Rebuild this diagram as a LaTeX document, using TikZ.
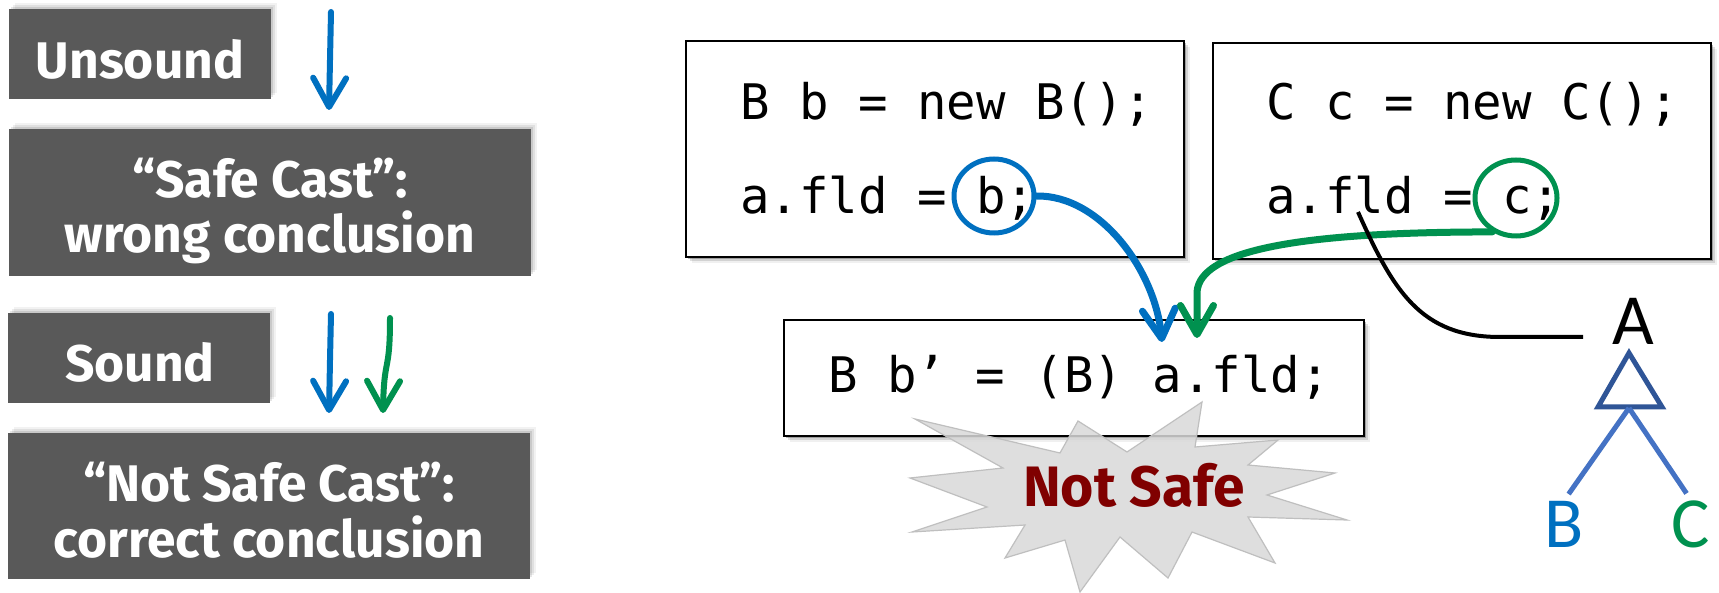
\documentclass[tikz,border=0pt]{standalone}
\usepackage{fontspec}
\setmainfont{Fira Sans}
\newfontfamily\codefont{DejaVu Sans Mono}
\newfontfamily\calfont{Carlito}
\usetikzlibrary{arrows.meta,shadows,shapes.geometric}
\definecolor{boxgray}{HTML}{595959}
\definecolor{ablue}{HTML}{0070C0}
\definecolor{agreen}{HTML}{00914F}
\definecolor{tridark}{HTML}{2F5597}
\definecolor{trilight}{HTML}{4472C4}
\definecolor{burst}{HTML}{D9D9D9}
\definecolor{burstline}{HTML}{BFBFBF}
\definecolor{nsred}{HTML}{800000}
\tikzset{
  darkbox/.style={rectangle, fill=boxgray, draw=none, inner sep=0pt,
    general shadow={shadow xshift=2pt, shadow yshift=2pt, fill=black, opacity=0.10},
    general shadow={shadow xshift=4pt, shadow yshift=4pt, fill=black, opacity=0.07},
    general shadow={shadow xshift=6pt, shadow yshift=6pt, fill=black, opacity=0.05}},
  lbl/.style={text=white, inner sep=0pt, font=\bfseries\fontsize{51.5pt}{54pt}\selectfont},
  codebox/.style={rectangle, fill=white, draw=black, line width=1.6pt, inner sep=0pt,
    general shadow={shadow xshift=2pt, shadow yshift=-2pt, fill=black, opacity=0.25},
    general shadow={shadow xshift=4pt, shadow yshift=-4pt, fill=black, opacity=0.12},
    general shadow={shadow xshift=6pt, shadow yshift=-6pt, fill=black, opacity=0.06}},
  code/.style={inner sep=0pt, font=\codefont\fontsize{49pt}{53pt}\selectfont},
  arr/.style={line width=6pt, line cap=round, line join=round,
    -{Straight Barb[length=29pt,width=33pt,round]}},
  circ/.style={ellipse, line width=5pt, inner sep=0pt},
  tree/.style={inner sep=0pt, font=\calfont\fontsize{72pt}{76pt}\selectfont},
}
\begin{document}
\begin{tikzpicture}[x=1pt,y=-1pt]
\useasboundingbox[fill=white] (0,0) rectangle (1719,593);

% left column boxes
\node[darkbox, minimum width=262pt, minimum height=90pt] (unsound) at (140,54) {};
\node[lbl, anchor=base] (unsoundt) at (140,79) {Unsound};
\node[darkbox, minimum width=522pt, minimum height=147pt] (safe) at (270,202.5) {};
\node[lbl, anchor=base] (safet1) at (270,198) {“Safe Cast”:};
\node[lbl, anchor=base] (safet2) at (270,253) {wrong conclusion};
\node[darkbox, minimum width=262pt, minimum height=90pt] (sound) at (139,358) {};
\node[lbl, anchor=base] (soundt) at (140,382) {Sound};
\node[darkbox, minimum width=522pt, minimum height=146pt] (notsafe) at (269,506) {};
\node[lbl, anchor=base] (notsafet1) at (269,501) {“Not Safe Cast”:};
\node[lbl, anchor=base] (notsafet2) at (269,557) {correct conclusion};

% left arrows
\coordinate (a1s) at (331,12);
\coordinate (a1e) at (329,110);
\draw[ablue, arr] (a1s) -- (330,60) -- (a1e);
\coordinate (a2s) at (331,314);
\coordinate (a2e) at (329,413);
\draw[ablue, arr] (a2s) -- (330,360) -- (a2e);
\coordinate (a3s) at (390,318);
\coordinate (a3e) at (383,413);
\draw[agreen, arr] (a3s) .. controls (390,375) and (384,355) .. (a3e);

% code boxes
\node[codebox, minimum width=498pt, minimum height=216pt] (box1) at (935,149) {};
\node[code, anchor=base west] (b1l1) at (740,120) {B b = new B();};
\node[code, anchor=base west] (b1l2) at (740,214) {a.fld = b;};
\node[codebox, minimum width=498pt, minimum height=216pt] (box2) at (1462,151) {};
\node[code, anchor=base west] (b2l1) at (1266,120) {C c = new C();};
\node[code, anchor=base west] (b2l2) at (1266,214) {a.fld = c;};
\node[codebox, minimum width=580pt, minimum height=116pt] (cast) at (1074,378) {};
\node[code, anchor=base west] (castl) at (828,392) {B b’ = (B) a.fld;};

% starburst
\draw[draw=burstline, fill=burst, fill opacity=0.85, line width=1.2pt, line join=miter]
  (915,419) -- (1060,453) -- (1078,421) -- (1127,452) -- (1202,402) -- (1195,447)
  -- (1278,440) -- (1248,465) -- (1335,473) -- (1267,495) -- (1347,520) -- (1248,517)
  -- (1275,563) -- (1192,532) -- (1168,578) -- (1120,537) -- (1080,592) -- (1065,540)
  -- (1005,558) -- (1025,525) -- (912,532) -- (987,507) -- (910,478) -- (1003,468) -- cycle;
\node[inner sep=0pt, anchor=base, text=nsred, font=\bfseries\fontsize{57pt}{60pt}\selectfont] (ns) at (1134,506) {Not Safe};

% circles
\node[circ, draw=ablue, minimum width=80pt, minimum height=74pt] (bc) at (994,196) {};
\node[circ, draw=agreen, minimum width=82pt, minimum height=76pt] (gc) at (1516,198) {};

% tree
\node[tree, anchor=base] (A) at (1633,345) {A};
\node[tree, anchor=base, text=ablue] (B) at (1564,547) {B};
\node[tree, anchor=base, text=agreen] (C) at (1691,547) {C};
\coordinate (tapex) at (1629,353);
\coordinate (tl) at (1598,407);
\coordinate (tr) at (1662,407);
\coordinate (tb) at (1629,408);
\draw[tridark, line width=5pt, line join=miter] (tapex) -- (tr) -- (tl) -- cycle;
\draw[trilight, line width=5pt, shorten >=8pt] (tb) -- (B.north);
\draw[trilight, line width=5pt, shorten >=8pt] (tb) -- (C.north);

% connectors
\coordinate (bt) at (1162,342);
\coordinate (gt) at (1197,338);
\draw[ablue, arr, line width=7pt] (bc.east) .. controls (1100,195) and (1155,270) .. (bt);
\draw[agreen, arr, line width=7pt] (gc.235) .. controls (1300,232) and (1200,250) .. (1197,292) -- (gt);
\coordinate (fl) at (1358,212);
\coordinate (Aend) at (1583,337);
\draw[black, line width=4pt] (fl) .. controls (1393,290) and (1420,337) .. (1500,337) -- (Aend);
\end{tikzpicture}
\end{document}
